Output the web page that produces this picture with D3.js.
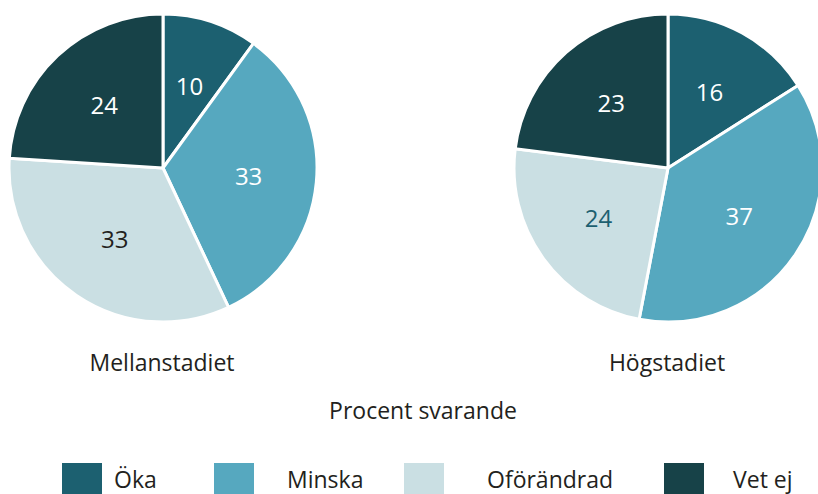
<!DOCTYPE html>
<html>
<head>
<meta charset="utf-8">
<script src="https://cdn.jsdelivr.net/npm/d3@7"></script>
<style>
  body { margin: 0; background: #fff; }
  svg { display: block; font-family: "Open Sans", sans-serif; }
</style>
</head>
<body>
<div id="chart"></div>
<script>
// data
var categories = ["Öka", "Minska", "Oförändrad", "Vet ej"];
var groups = ["Mellanstadiet", "Högstadiet"];
var mellanstadiet = [10, 33, 33, 24];
var hogstadiet = [16, 37, 24, 23];
var unitLabel = "Procent svarande";

var colors = ["#1c6070", "#56a8bf", "#cadfe3", "#174248"];
// label colour per slice, per pie
var labelColors = [
  ["#ffffff", "#ffffff", "#231f20", "#ffffff"],
  ["#ffffff", "#ffffff", "#1c6070", "#ffffff"]
];

var width = 818, height = 494;
var radius = 154;
var centersX = [163, 668], centerY = 168;

var svg = d3.select("#chart")
  .append("svg")
    .attr("width", width)
    .attr("height", height);

var color = d3.scaleOrdinal().domain(categories).range(colors);

var pie = d3.pie().sort(null).value(function(d) { return d.value; });
var arc = d3.arc().innerRadius(0).outerRadius(radius);
var labelArc = d3.arc().innerRadius(86).outerRadius(86);

[mellanstadiet, hogstadiet].forEach(function(values, i) {
  var data = categories.map(function(c, j) { return {cat: c, value: values[j]}; });
  var g = svg.append("g")
    .attr("transform", "translate(" + centersX[i] + "," + centerY + ")");

  g.selectAll("path")
    .data(pie(data))
    .enter()
    .append("path")
      .attr("d", arc)
      .attr("fill", function(d) { return color(d.data.cat); })
      .attr("stroke", "#fff")
      .attr("stroke-width", 3)
      .attr("stroke-linejoin", "round");

  g.selectAll("text")
    .data(pie(data))
    .enter()
    .append("text")
      .attr("transform", function(d) { return "translate(" + labelArc.centroid(d) + ")"; })
      .attr("text-anchor", "middle")
      .attr("dy", "0.36em")
      .style("font-size", "24px")
      .attr("fill", function(d, j) { return labelColors[i][j]; })
      .text(function(d) { return d.data.value; });

  svg.append("text")
    .attr("x", centersX[i] - 1)
    .attr("y", 371)
    .attr("text-anchor", "middle")
    .style("font-size", "23px")
    .attr("fill", "#231f20")
    .text(groups[i]);
});

svg.append("text")
  .attr("x", 423)
  .attr("y", 419)
  .attr("text-anchor", "middle")
  .style("font-size", "23px")
  .attr("fill", "#231f20")
  .text(unitLabel);

// legend
var legendX = [62, 214, 404, 664];
var legendTextX = [114, 287, 487, 733];
var legend = svg.selectAll(".legend")
  .data(categories)
  .enter()
  .append("g")
    .attr("class", "legend");

legend.append("rect")
  .attr("x", function(d, i) { return legendX[i]; })
  .attr("y", 463)
  .attr("width", 40)
  .attr("height", 40)
  .attr("fill", function(d) { return color(d); });

legend.append("text")
  .attr("x", function(d, i) { return legendTextX[i]; })
  .attr("y", 488)
  .style("font-size", "23px")
  .attr("fill", "#231f20")
  .text(function(d) { return d; });
</script>
</body>
</html>
